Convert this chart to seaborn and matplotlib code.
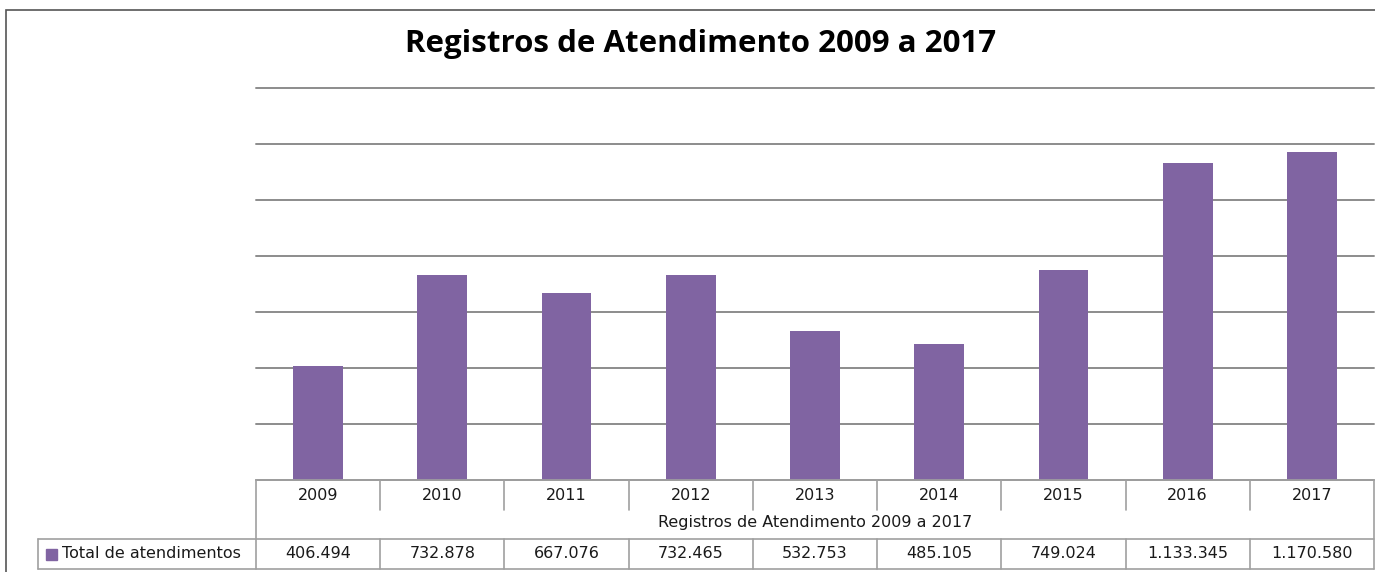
import numpy as np
import pandas as pd
import seaborn as sns
import matplotlib.pyplot as plt
from matplotlib.patches import Rectangle

# data
years = ['2009', '2010', '2011', '2012', '2013', '2014', '2015', '2016', '2017']
totals = [406494, 732878, 667076, 732465, 532753, 485105, 749024, 1133345, 1170580]
series_name = 'Total de atendimentos'
title = 'Registros de Atendimento 2009 a 2017'

purple = '#8064A2'
grid_grey = '#8c8c8c'
table_grey = '#a0a0a0'
txt_size = 11.5


def fmt_br(v):
    return f'{v:,}'.replace(',', '.')


sns.set_style('white')
plt.rcParams['font.family'] = ['DejaVu Sans']

W, H = 1375, 572
fig = plt.figure(figsize=(W / 100, H / 100), dpi=100)

# plot area in pixels
x0, x1 = 256, 1374
y_top, y_bot = 88, 480
ax = fig.add_axes([x0 / W, 1 - y_bot / H, (x1 - x0) / W, (y_bot - y_top) / H])

df = pd.DataFrame({'ano': years, 'total': totals})
sns.barplot(data=df, x='ano', y='total', color=purple, saturation=1,
            width=0.4, linewidth=0, ax=ax, zorder=3)

ax.set_xlim(-0.5, len(years) - 0.5)
ax.set_ylim(0, 1400000)
ax.set_yticks(np.arange(0, 1400001, 200000))
ax.yaxis.grid(True, color=grid_grey, lw=1.4, zorder=0)
for gl in ax.get_ygridlines():
    gl.set_clip_on(False)
ax.set_axisbelow(True)
ax.set_xticks([])
ax.set_yticklabels([])
ax.tick_params(left=False, bottom=False)
ax.set_xlabel('')
ax.set_ylabel('')
sns.despine(ax=ax, left=True, bottom=True, top=True, right=True)


# ---- data table below the plot, drawn in figure pixels ----
def fx(px):
    return px / W


def fy(py):
    return 1 - py / H


def hline(xa, xb, y):
    fig.add_artist(plt.Line2D([fx(xa), fx(xb)], [fy(y), fy(y)],
                              color=table_grey, lw=1.2))


def vline(x, ya, yb):
    fig.add_artist(plt.Line2D([fx(x), fx(x)], [fy(ya), fy(yb)],
                              color=table_grey, lw=1.2))


col_w = (x1 - x0) / len(years)
hline(x0, x1, y_bot)
hline(38, x1, 539)
hline(38, x1, 569)
vline(38, 539, 569)
vline(x0, y_bot, 569)
vline(x1, y_bot, 569)
for i in range(1, len(years)):
    xb = x0 + i * col_w
    vline(xb, y_bot, 510)
    vline(xb, 539, 569)

for i, (yr, v) in enumerate(zip(years, totals)):
    xc = x0 + (i + 0.5) * col_w
    fig.text(fx(xc), fy(495), yr, ha='center', va='center', fontsize=txt_size, color='#1a1a1a')
    fig.text(fx(xc), fy(554), fmt_br(v), ha='center', va='center', fontsize=txt_size, color='#1a1a1a')

fig.text(fx((x0 + x1) / 2), fy(523), title, ha='center', va='center',
         fontsize=txt_size, color='#1a1a1a')

# legend key in table row
fig.add_artist(Rectangle((fx(46), fy(560)), 11 / W, 11 / H, color=purple,
                         transform=fig.transFigure))
fig.text(fx(62), fy(554), series_name, ha='left', va='center', fontsize=txt_size, color='#1a1a1a')

# chart title
fig.text(fx(701), fy(44), title, ha='center', va='center', fontsize=22.5,
         fontweight='bold', family=['Open Sans', 'DejaVu Sans'], color='black')

# outer chart frame
fig.add_artist(Rectangle((fx(6), fy(H + 20)), (W + 20) / W, (H + 10) / H,
                         fill=False, edgecolor='#555555', lw=1.2,
                         transform=fig.transFigure))

fig.savefig('out.png', dpi=100)
